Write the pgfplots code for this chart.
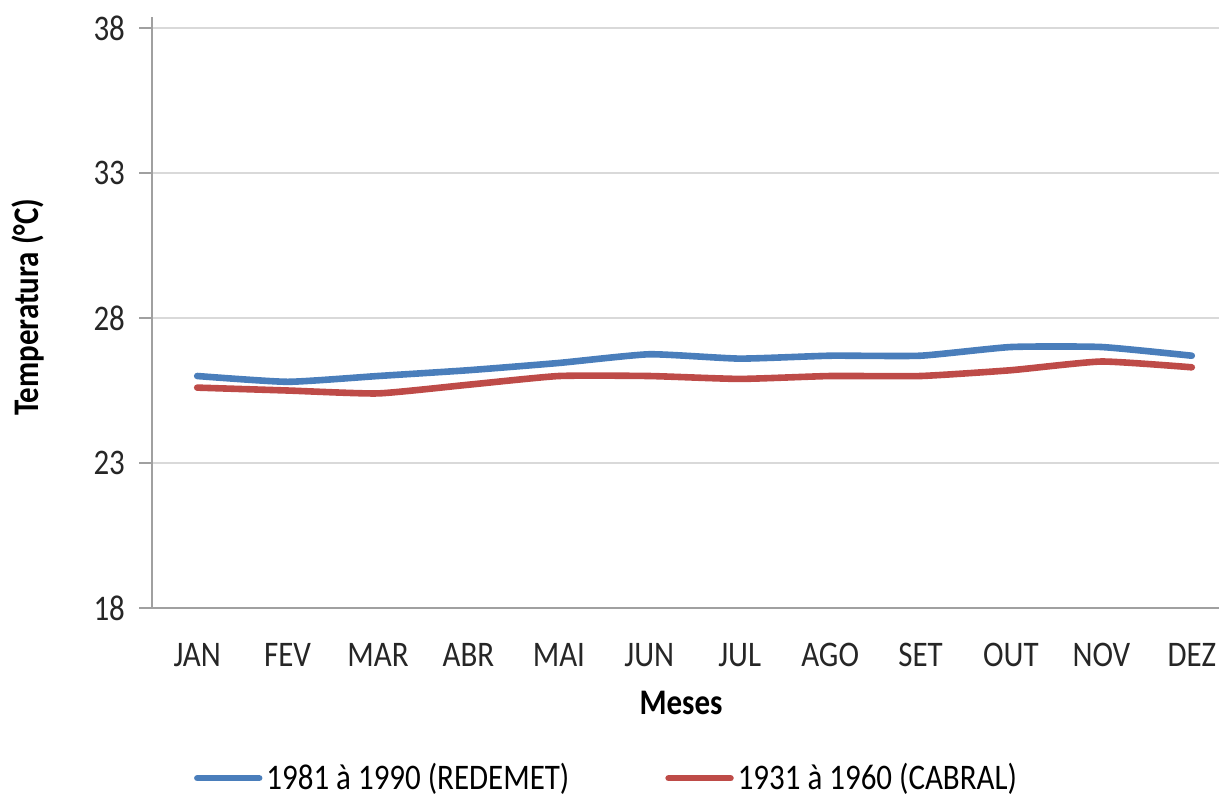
\documentclass[border=0pt]{standalone}
\usepackage{fontspec}
\setmainfont{Carlito}[FakeStretch=0.86]
\usepackage{pgfplots}
\pgfplotsset{compat=1.18}
\definecolor{serieazul}{HTML}{4A7EBB}
\definecolor{serievermelha}{HTML}{BE4B48}
\definecolor{grade}{HTML}{D9D9D9}
\definecolor{eixo}{HTML}{A0A0A0}

\pgfplotstableread{
mes redemet cabral
0  26.0 25.6
1  25.8 25.5
2  26.0 25.4
3  26.2 25.7
4  26.45 26.0
5  26.75 26.0
6  26.6 25.9
7  26.7 26.0
8  26.7 26.0
9  27.0 26.2
10 27.0 26.5
11 26.7 26.3
}\temperaturas

\begin{document}
\begin{tikzpicture}
  % 1 px of the reference = 0.5pt
  \path[use as bounding box] (-76pt,-95.5pt) rectangle (533.5pt,304pt);
  \clip (-76pt,-95.5pt) rectangle (533.5pt,304pt);
  \begin{axis}[
    at={(0,0)}, anchor=south west,
    scale only axis, width=542.5pt, height=295.5pt,
    font=\fontsize{18}{21}\selectfont,
    /pgf/number format/assume math mode=true,
    xmin=-0.5, xmax=11.5,
    ymin=18, ymax=38.38,
    ytick={18,23,28,33,38},
    xtick={0,...,11},
    xticklabels={JAN,FEV,MAR,ABR,MAI,JUN,JUL,AGO,SET,OUT,NOV,DEZ},
    axis x line*=bottom, axis y line*=left,
    axis line style={eixo, line width=0.8pt, -},
    ymajorgrids, grid style={grade, line width=0.8pt},
    major x tick style={draw=none},
    major y tick style={eixo, line width=0.8pt},
    tick align=outside, major tick length=6.5pt,
    yticklabel style={xshift=-3.5pt, text=black!85},
    xticklabel style={yshift=-7.5pt, text=black!85},
    xlabel={\textbf{Meses}},
    xlabel style={at={(axis description cs:0.4876,-0.1607)}, anchor=center},
    ylabel={\textbf{Temperatura (°C)}},
    ylabel style={at={(axis description cs:-0.1143,0.509)}, anchor=center, rotate=0},
    legend columns=2,
    legend style={at={(axis description cs:0.4198,-0.288)}, anchor=center,
      draw=none, fill=none, font=\fontsize{18}{21}\selectfont,
      /tikz/every even column/.append style={column sep=46pt},
      nodes={inner sep=2pt}},
    legend image code/.code={\draw[#1, line width=3.2pt, line cap=round] (0pt,0pt) -- (31pt,0pt);},
  ]
    \addplot[serieazul, line width=3.3pt, line cap=round, line join=round, smooth, tension=0.3]
      table[x=mes, y=redemet] {\temperaturas};
    \addlegendentry{1981 à 1990 (REDEMET)}
    \addplot[serievermelha, line width=3.3pt, line cap=round, line join=round, smooth, tension=0.3]
      table[x=mes, y=cabral] {\temperaturas};
    \addlegendentry{1931 à 1960 (CABRAL)}
  \end{axis}
\end{tikzpicture}
\end{document}
